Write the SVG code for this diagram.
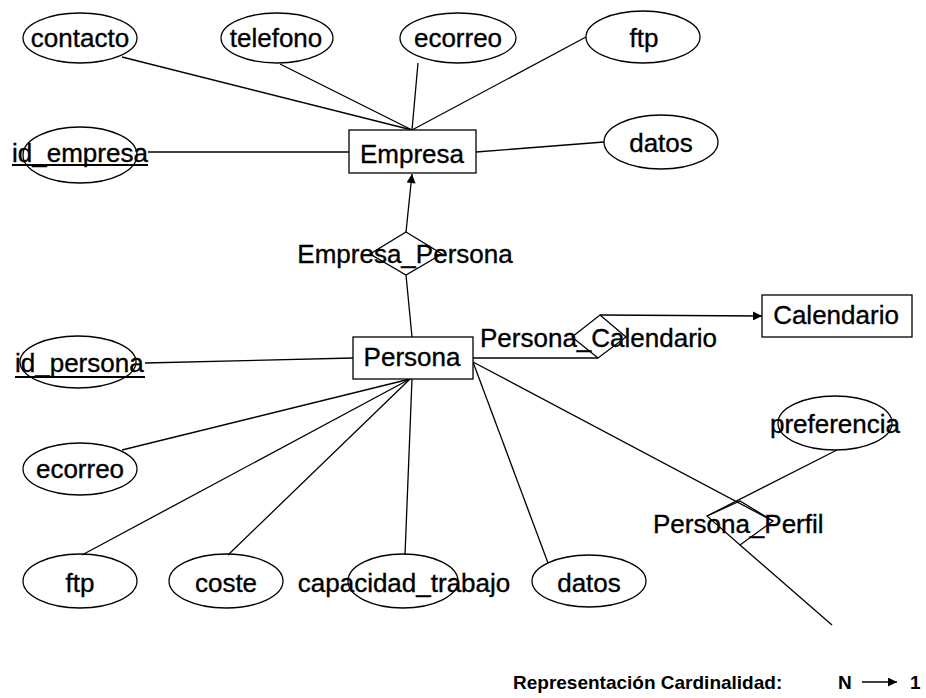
<svg xmlns="http://www.w3.org/2000/svg" width="926" height="698" viewBox="0 0 926 698">
  <defs>
    <marker id="arrow" viewBox="0 0 10 10" refX="10" refY="5" markerWidth="10" markerHeight="9" markerUnits="userSpaceOnUse" orient="auto">
      <path d="M0,0 L10,5 L0,10 z" fill="#000"/>
    </marker>
    <style>
      text { font-family: "Liberation Sans", Arial, sans-serif; font-size: 26px; fill: #000; stroke: #000; stroke-width: 0.35; }
      .c { text-anchor: middle; }
      .attr, .ent, .rel { fill: none; stroke: #000; stroke-width: 1.3; }
      .ent { fill: #fff; }
      .link { stroke: #000; stroke-width: 1.3; fill: none; }
      .key { stroke: #000; stroke-width: 2; }
      .legend { font-size: 19px; font-weight: bold; stroke-width: 0; }
    </style>
  </defs>
  <rect width="926" height="698" fill="#fff"/>

  <!-- connectors -->
  <g id="connectors">
    <!-- Empresa attributes -->
    <line class="link" x1="122" y1="57" x2="412" y2="130"/>
    <line class="link" x1="280" y1="64" x2="412" y2="130"/>
    <line class="link" x1="418" y1="63" x2="412" y2="130"/>
    <line class="link" x1="586" y1="37" x2="412" y2="130"/>
    <line class="link" x1="148" y1="152" x2="349" y2="152"/>
    <line class="link" x1="476" y1="152" x2="604" y2="142"/>
    <!-- Empresa_Persona -->
    <line class="link" x1="406" y1="232" x2="412" y2="174" marker-end="url(#arrow)"/>
    <line class="link" x1="406" y1="275" x2="412" y2="337"/>
    <!-- Persona attributes -->
    <line class="link" x1="145" y1="363" x2="353" y2="358"/>
    <line class="link" x1="122" y1="450" x2="410" y2="379"/>
    <line class="link" x1="82" y1="555" x2="410" y2="379"/>
    <line class="link" x1="228" y1="555" x2="410" y2="379"/>
    <line class="link" x1="405" y1="555" x2="412" y2="379"/>
    <line class="link" x1="548" y1="563" x2="473" y2="362"/>
    <!-- Persona_Calendario -->
    <line class="link" x1="473" y1="358" x2="598" y2="358"/>
    <line class="link" x1="600" y1="315" x2="762" y2="316" marker-end="url(#arrow)"/>
    <!-- Persona_Perfil -->
    <line class="link" x1="473" y1="362" x2="773" y2="521"/>
    <line class="link" x1="837" y1="450" x2="707" y2="516"/>
    <line class="link" x1="740" y1="545" x2="832" y2="625"/>
  </g>

  <!-- Empresa entity -->
  <g id="empresa">
    <rect class="ent" x="349" y="130" width="127" height="43"/>
    <text class="c" x="412" y="163">Empresa</text>
  </g>
  <g id="empresa-contacto">
    <ellipse class="attr" cx="80" cy="38" rx="57" ry="25"/>
    <text class="c" x="80" y="47">contacto</text>
  </g>
  <g id="empresa-telefono">
    <ellipse class="attr" cx="277" cy="38" rx="56" ry="25"/>
    <text class="c" x="276" y="47">telefono</text>
  </g>
  <g id="empresa-ecorreo">
    <ellipse class="attr" cx="458" cy="38" rx="58" ry="25"/>
    <text class="c" x="458" y="47">ecorreo</text>
  </g>
  <g id="empresa-ftp">
    <ellipse class="attr" cx="643" cy="37" rx="57" ry="26"/>
    <text class="c" x="644" y="47">ftp</text>
  </g>
  <g id="empresa-datos">
    <ellipse class="attr" cx="661" cy="142" rx="57" ry="27"/>
    <text class="c" x="661" y="152">datos</text>
  </g>
  <g id="empresa-id">
    <ellipse class="attr" cx="80" cy="155" rx="57" ry="28"/>
    <text x="12" y="162">id_empresa</text>
    <line class="key" x1="12" y1="165" x2="148" y2="165"/>
  </g>

  <!-- Empresa_Persona relationship -->
  <g id="empresa-persona">
    <polygon class="rel" points="406,232 442,254 406,275 370,254"/>
    <text class="c" x="405" y="263">Empresa_Persona</text>
  </g>

  <!-- Persona entity -->
  <g id="persona">
    <rect class="ent" x="353" y="337" width="120" height="42"/>
    <text class="c" x="412" y="366">Persona</text>
  </g>
  <g id="persona-id">
    <ellipse class="attr" cx="78" cy="362" rx="58" ry="26"/>
    <text x="15" y="372">id_persona</text>
    <line class="key" x1="15" y1="377" x2="145" y2="377"/>
  </g>
  <g id="persona-ecorreo">
    <ellipse class="attr" cx="80" cy="469" rx="57" ry="26"/>
    <text class="c" x="80" y="478">ecorreo</text>
  </g>
  <g id="persona-ftp">
    <ellipse class="attr" cx="80" cy="581" rx="57" ry="27"/>
    <text class="c" x="80" y="592">ftp</text>
  </g>
  <g id="persona-coste">
    <ellipse class="attr" cx="226" cy="581" rx="57" ry="27"/>
    <text class="c" x="226" y="592">coste</text>
  </g>
  <g id="persona-capacidad">
    <ellipse class="attr" cx="403" cy="581" rx="55" ry="27"/>
    <text class="c" x="404" y="592">capacidad_trabajo</text>
  </g>
  <g id="persona-datos">
    <ellipse class="attr" cx="589" cy="581" rx="57" ry="26"/>
    <text class="c" x="589" y="592">datos</text>
  </g>

  <!-- Persona_Calendario relationship -->
  <g id="persona-calendario">
    <polygon class="rel" points="600,315 626,337 598,358 572,337"/>
    <text x="480" y="347">Persona_Calendario</text>
  </g>

  <!-- Calendario entity -->
  <g id="calendario">
    <rect class="ent" x="762" y="295" width="150" height="42"/>
    <text class="c" x="836" y="324">Calendario</text>
  </g>

  <!-- Persona_Perfil relationship -->
  <g id="persona-perfil">
    <polygon class="rel" points="707,516 740,501 773,521 740,545"/>
    <text x="653" y="533">Persona_Perfil</text>
  </g>
  <g id="perfil-preferencia">
    <ellipse class="attr" cx="835" cy="423" rx="57" ry="27"/>
    <text class="c" x="835" y="433">preferencia</text>
  </g>

  <!-- legend -->
  <g id="legend">
    <text class="legend" x="513" y="689">Representación Cardinalidad:</text>
    <text class="legend" x="838" y="689">N</text>
    <line class="link" x1="862" y1="682" x2="897" y2="682" marker-end="url(#arrow)"/>
    <text class="legend" x="910" y="689">1</text>
  </g>
</svg>
